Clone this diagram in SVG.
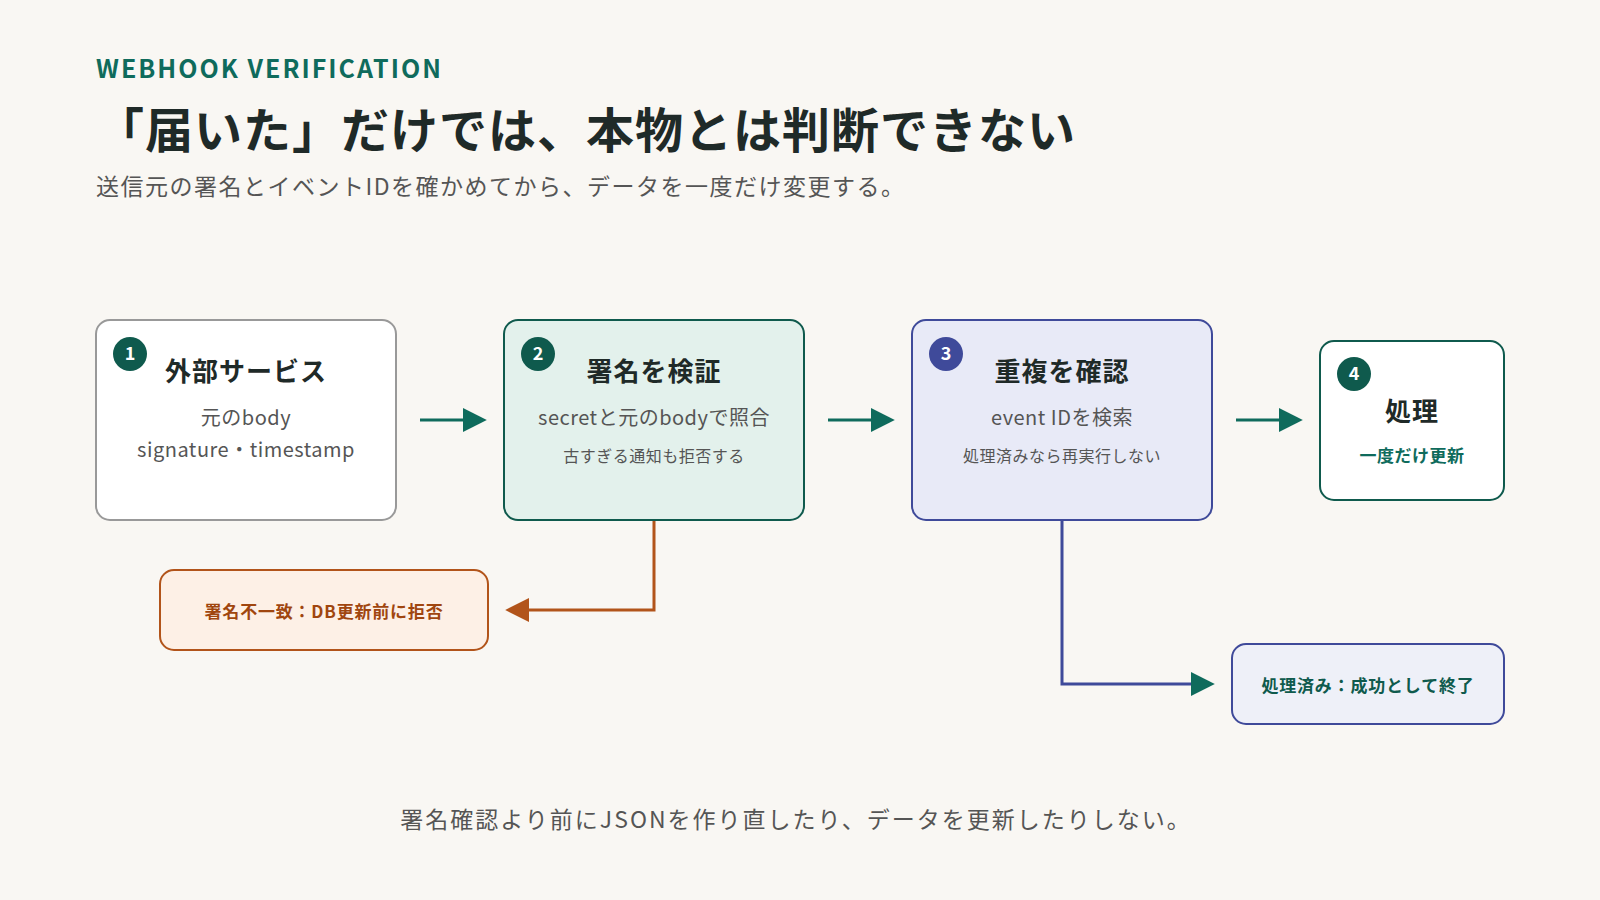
<svg xmlns="http://www.w3.org/2000/svg" width="1600" height="900" viewBox="0 0 1600 900">
<style>
text{font-family:"Noto Sans CJK JP","Noto Sans",sans-serif}
.t{font-size:26px;font-weight:700;fill:#1f2a28;text-anchor:middle;letter-spacing:1px}
.s{font-size:20px;fill:#555;text-anchor:middle;letter-spacing:0.5px}
.xs{font-size:16px;fill:#555;text-anchor:middle;letter-spacing:0.5px}
.b{font-size:18px;font-weight:700;fill:#fff;text-anchor:middle}
</style>
<defs>
<marker id="ao" viewBox="0 0 10 10" refX="8" refY="5" markerWidth="24" markerHeight="24" orient="auto" markerUnits="userSpaceOnUse"><path d="M0 0L10 5L0 10z" fill="#b2541a"/></marker>
<marker id="at" viewBox="0 0 10 10" refX="8" refY="5" markerWidth="24" markerHeight="24" orient="auto" markerUnits="userSpaceOnUse"><path d="M0 0L10 5L0 10z" fill="#0f6b5c"/></marker>
</defs>
<rect width="1600" height="900" fill="#f9f7f3"/>
<text x="96" y="78" font-size="25" font-weight="600" fill="#0f6b5c" letter-spacing="2" font-family="Inter,sans-serif">WEBHOOK VERIFICATION</text>
<text x="96" y="148" font-size="48" font-weight="700" fill="#1f2a28" letter-spacing="1">「届いた」だけでは、本物とは判断できない</text>
<text x="96" y="195" font-size="23" fill="#555" letter-spacing="1.5">送信元の署名とイベントIDを確かめてから、データを一度だけ変更する。</text>
<g id="connectors" fill="none" stroke-width="3">
<line x1="420" y1="420" x2="482" y2="420" stroke="#0f6b5c" marker-end="url(#at)"/>
<line x1="828" y1="420" x2="890" y2="420" stroke="#0f6b5c" marker-end="url(#at)"/>
<line x1="1236" y1="420" x2="1298" y2="420" stroke="#0f6b5c" marker-end="url(#at)"/>
<polyline points="654,520 654,610 510,610" stroke="#b2541a" marker-end="url(#ao)"/>
<polyline points="1062,520 1062,684 1210,684" stroke="#3f4a9a" marker-end="url(#at)"/>
</g>
<g id="n1"><rect x="96" y="320" width="300" height="200" rx="14" fill="#fff" stroke="#999" stroke-width="2"/>
<circle cx="130" cy="354" r="17" fill="#0f5a4d"/><text class="b" x="130" y="360">1</text>
<text class="t" x="246" y="381">外部サービス</text>
<text class="s" x="246" y="425">元のbody</text><text class="s" x="246" y="457">signature・timestamp</text></g>
<g id="n2"><rect x="504" y="320" width="300" height="200" rx="14" fill="#e3f1ec" stroke="#0f5a4d" stroke-width="2"/>
<circle cx="538" cy="354" r="17" fill="#0f5a4d"/><text class="b" x="538" y="360">2</text>
<text class="t" x="654" y="381">署名を検証</text>
<text class="s" x="654" y="425">secretと元のbodyで照合</text><text class="xs" x="654" y="462">古すぎる通知も拒否する</text></g>
<g id="n3"><rect x="912" y="320" width="300" height="200" rx="14" fill="#e8eaf7" stroke="#3f4a9a" stroke-width="2"/>
<circle cx="946" cy="354" r="17" fill="#3f4a9a"/><text class="b" x="946" y="360">3</text>
<text class="t" x="1062" y="381">重複を確認</text>
<text class="s" x="1062" y="425">event IDを検索</text><text class="xs" x="1062" y="462">処理済みなら再実行しない</text></g>
<g id="n4"><rect x="1320" y="341" width="184" height="159" rx="14" fill="#fff" stroke="#0f5a4d" stroke-width="2"/>
<circle cx="1354" cy="374" r="17" fill="#0f5a4d"/><text class="b" x="1354" y="380">4</text>
<text class="t" x="1412" y="421">処理</text>
<text x="1412" y="462" font-size="17" font-weight="700" fill="#0f6b5c" text-anchor="middle" letter-spacing="0.5">一度だけ更新</text></g>
<g id="reject"><rect x="160" y="570" width="328" height="80" rx="14" fill="#fdf0e6" stroke="#b2541a" stroke-width="2"/>
<text x="324" y="618" font-size="17" font-weight="700" fill="#a0460f" text-anchor="middle" letter-spacing="0.8">署名不一致：DB更新前に拒否</text></g>
<g id="done"><rect x="1232" y="644" width="272" height="80" rx="14" fill="#eef0f8" stroke="#3f4a9a" stroke-width="2"/>
<text x="1368" y="692" font-size="17" font-weight="700" fill="#0f5a4d" text-anchor="middle" letter-spacing="0.8">処理済み：成功として終了</text></g>
<text x="796" y="828" font-size="23" fill="#555" text-anchor="middle" letter-spacing="2">署名確認より前にJSONを作り直したり、データを更新したりしない。</text>
</svg>
